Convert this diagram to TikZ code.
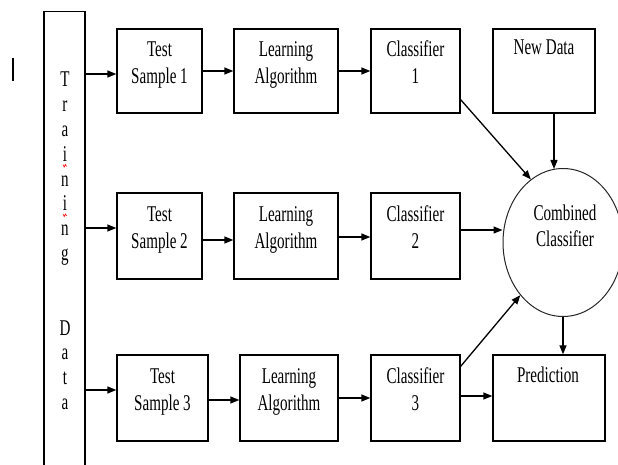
\documentclass[tikz,border=0pt]{standalone}
\usepackage{fontspec}
\setmainfont{Liberation Serif}[FakeStretch=0.67]
\usetikzlibrary{shapes.geometric,arrows.meta,calc}
\begin{document}
\begin{tikzpicture}[x=1pt,y=-1pt,
  box/.style={draw=black, line width=1.3pt, rectangle, inner sep=0pt},
  txt/.style={font=\fontsize{22.5}{26}\selectfont, inner sep=0pt, anchor=base, text=black},
  arr/.style={line width=1.3pt, -{Triangle[length=9pt,width=7pt]}},
  ]
\useasboundingbox (0,0) rectangle (618,465);
\clip (0,0) rectangle (618,465);
% stray mark
\draw[line width=2pt] (13,58) -- (13,81);
% training data column
\node[box, minimum width=41pt, minimum height=480pt, anchor=north] (train) at (64.5,11) {};
\foreach \l/\yy [count=\k] in {T/87,r/111.8,a/136.6,i/161.4,n/186.2,i/211,n/235.8,g/260.6,D/335,a/359.8,t/384.6,a/409.4}
  \node[txt, name=tl\k] at (65,\yy) {\l};
\draw[red, line width=0.6pt] (63,164.5) -- (64.2,167) -- (65.4,164.5) -- (66.6,166.5);
\draw[red, line width=0.6pt] (63,214) -- (64.2,216.5) -- (65.4,214) -- (66.6,216);
% row 1
\node[box, minimum width=85pt, minimum height=84pt] (ts1) at (159.5,71) {};
\node[box, minimum width=104pt, minimum height=84pt] (la1) at (286,71) {};
\node[box, minimum width=89pt, minimum height=84pt] (c1) at (415.5,71) {};
\node[box, minimum width=102pt, minimum height=84pt] (nd) at (544,71) {};
% row 2
\node[box, minimum width=85pt, minimum height=86pt] (ts2) at (159.5,236) {};
\node[box, minimum width=104pt, minimum height=86pt] (la2) at (286,236) {};
\node[box, minimum width=89pt, minimum height=86pt] (c2) at (415.5,236) {};
% row 3
\node[box, minimum width=91pt, minimum height=86pt] (ts3) at (162.5,398) {};
\node[box, minimum width=98pt, minimum height=86pt] (la3) at (289,398) {};
\node[box, minimum width=89pt, minimum height=86pt] (c3) at (415.5,398) {};
\node[box, minimum width=112pt, minimum height=86pt] (pr) at (549,398) {};
% combined classifier
\node[draw=black!85, line width=1pt, ellipse, minimum width=120pt, minimum height=148pt, inner sep=0pt] (cc) at (563,242.5) {};
% texts
\node[txt] (t1a) at (159.5,57) {Test};
\node[txt] (t1b) at (159.5,83.3) {Sample 1};
\node[txt] (l1a) at (286,57) {Learning};
\node[txt] (l1b) at (286,83.3) {Algorithm};
\node[txt] (k1a) at (415.5,57) {Classifier};
\node[txt] (k1b) at (415.5,83.3) {1};
\node[txt] (nda) at (544,55) {New Data};
\node[txt] (t2a) at (159.5,221) {Test};
\node[txt] (t2b) at (159.5,248) {Sample 2};
\node[txt] (l2a) at (286,221) {Learning};
\node[txt] (l2b) at (286,248) {Algorithm};
\node[txt] (k2a) at (415.5,221) {Classifier};
\node[txt] (k2b) at (415.5,248) {2};
\node[txt] (t3a) at (162.5,383) {Test};
\node[txt] (t3b) at (162.5,410) {Sample 3};
\node[txt] (l3a) at (289,383) {Learning};
\node[txt] (l3b) at (289,410) {Algorithm};
\node[txt] (k3a) at (415.5,383) {Classifier};
\node[txt] (k3b) at (415.5,410) {3};
\node[txt] (pra) at (548,382) {Prediction};
\node[txt] (cca) at (565,220) {Combined};
\node[txt] (ccb) at (565,246) {Classifier};
% arrows from training data
\coordinate (a1) at ($(ts1.west)+(0,3)$);
\draw[arr] (a1 -| train.east) -- (a1);
\coordinate (a2) at ($(ts2.west)+(0,-8)$);
\draw[arr] (a2 -| train.east) -- (a2);
\coordinate (a3) at ($(ts3.west)+(0,-8)$);
\draw[arr] (a3 -| train.east) -- (a3);
% test sample -> learning algorithm
\draw[arr] (ts1.east) -- (la1.west);
\coordinate (b2) at ($(ts2.east)+(0,4)$);
\draw[arr] (b2) -- (b2 -| la2.west);
\coordinate (b3) at ($(ts3.east)+(0,2)$);
\draw[arr] (b3) -- (b3 -| la3.west);
% learning algorithm -> classifier
\draw[arr] (la1.east) -- (c1.west);
\coordinate (d2) at ($(la2.east)+(0,1)$);
\draw[arr] (d2) -- (d2 -| c2.west);
\draw[arr] (la3.east) -- (c3.west);
% classifiers -> combined
\draw[arr] ($(c1.south east)+(0,-14)$) -- (cc.117);
\coordinate (e2) at ($(c2.east)+(0,-6)$);
\draw[arr] (e2) -- (e2 -| cc.west);
\draw[arr] ($(c3.north east)+(0,12)$) -- (cc.231);
\coordinate (f1) at ($(nd.south)+(10,0)$);
\draw[arr] (f1) -- ($(f1 |- cc.north)+(0,1)$);
% to prediction
\coordinate (g1) at ($(c3.east)+(0,-2)$);
\draw[arr] (g1) -- (g1 -| pr.west);
\draw[arr] (cc.south) -- (cc.south |- pr.north);
\end{tikzpicture}
\end{document}
